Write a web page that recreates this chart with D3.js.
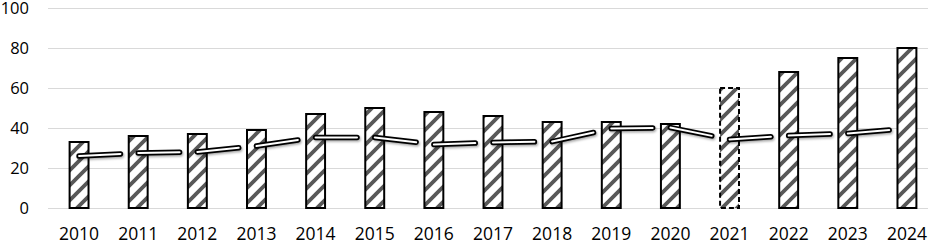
<!DOCTYPE html>
<html>
<head>
<meta charset="utf-8">
<script src="https://cdn.jsdelivr.net/npm/d3@7"></script>
<style>
  body { margin: 0; background: #fff; }
  svg { display: block; font-family: "Open Sans", sans-serif; }
  .tick text { fill: #000; }
</style>
</head>
<body>
<svg id="chart" width="928" height="242"></svg>
<script>
const years = ['2010', '2011', '2012', '2013', '2014', '2015', '2016', '2017', '2018', '2019', '2020', '2021', '2022', '2023', '2024'];
const barValues = [33, 36, 37, 39, 47, 50, 48, 46, 43, 43, 42, 60, 68, 75, 80];
const lineValues = [26, 27.5, 28, 31, 35.3, 35.3, 31.8, 32.8, 33.2, 39.7, 40.2, 34.3, 36.2, 37.3, 39.7];
const yTicks = [0, 20, 40, 60, 80, 100];
const dashedYear = '2021';

const svg = d3.select('#chart');
const plotLeft = 48, plotRight = 928, plotTop = 8, plotBottom = 208;

const x = d3.scaleBand()
  .domain(years)
  .range([49.5, 936.5])
  .paddingInner(0.68)
  .paddingOuter(0.34);

const y = d3.scaleLinear().domain([0, 100]).range([plotBottom, plotTop]);

// hatch pattern + shadow
const defs = svg.append('defs');
const pat = defs.append('pattern')
  .attr('id', 'hatch')
  .attr('patternUnits', 'userSpaceOnUse')
  .attr('width', 15).attr('height', 15);
pat.append('rect').attr('width', 15).attr('height', 15).attr('fill', '#fff');
pat.append('path')
  .attr('d', 'M-1,16 L16,-1 M-4,4 L4,-4 M11,19 L19,11')
  .attr('stroke', '#585858')
  .attr('stroke-width', 3.8);

defs.append('filter').attr('id', 'shadow')
  .attr('x', '-20%').attr('y', '-50%').attr('width', '140%').attr('height', '200%')
  .append('feDropShadow')
  .attr('dx', 1).attr('dy', 1.5).attr('stdDeviation', 1.2)
  .attr('flood-color', '#000').attr('flood-opacity', 0.35);

// gridlines
svg.append('g')
  .selectAll('line')
  .data(yTicks)
  .join('line')
  .attr('x1', plotLeft).attr('x2', plotRight)
  .attr('y1', d => y(d) + 0.5).attr('y2', d => y(d) + 0.5)
  .attr('stroke', '#d9d9d9')
  .attr('stroke-width', 1);

// y axis labels
const yAxis = svg.append('g')
  .attr('transform', `translate(${plotLeft},0)`)
  .call(d3.axisLeft(y).tickValues(yTicks).tickSize(0).tickPadding(19));
yAxis.select('.domain').remove();
yAxis.selectAll('text').style('font-size', '16.5px').style('font-family', '"Open Sans", sans-serif');

// x axis labels
const xAxis = svg.append('g')
  .attr('transform', `translate(0,${plotBottom})`)
  .call(d3.axisBottom(x).tickSize(0).tickPadding(20));
xAxis.select('.domain').remove();
xAxis.selectAll('text').style('font-size', '17.5px').style('font-family', '"Open Sans", sans-serif');

// bars
svg.append('g')
  .selectAll('rect')
  .data(years.map((yr, i) => ({ yr, v: barValues[i] })))
  .join('rect')
  .attr('x', d => x(d.yr))
  .attr('y', d => y(d.v))
  .attr('width', x.bandwidth())
  .attr('height', d => plotBottom - y(d.v))
  .attr('fill', 'url(#hatch)')
  .attr('stroke', '#000')
  .attr('stroke-width', 2)
  .attr('stroke-dasharray', d => d.yr === dashedYear ? '5,3' : null);

// line segments (broken, outlined)
const pts = years.map((yr, i) => [x(yr) + x.bandwidth() / 2, y(lineValues[i])]);
const frac = 0.7;
const segs = d3.pairs(pts).map(([a, b]) => [a, [a[0] + (b[0] - a[0]) * frac, a[1] + (b[1] - a[1]) * frac]]);
const line = d3.line();

const lg = svg.append('g').attr('filter', 'url(#shadow)');
lg.selectAll('path.outer')
  .data(segs)
  .join('path')
  .attr('class', 'outer')
  .attr('d', line)
  .attr('stroke', '#000')
  .attr('stroke-width', 5.5)
  .attr('stroke-linecap', 'round')
  .attr('fill', 'none');
lg.selectAll('path.inner')
  .data(segs)
  .join('path')
  .attr('class', 'inner')
  .attr('d', line)
  .attr('stroke', '#fff')
  .attr('stroke-width', 2)
  .attr('stroke-linecap', 'round')
  .attr('fill', 'none');
</script>
</body>
</html>
